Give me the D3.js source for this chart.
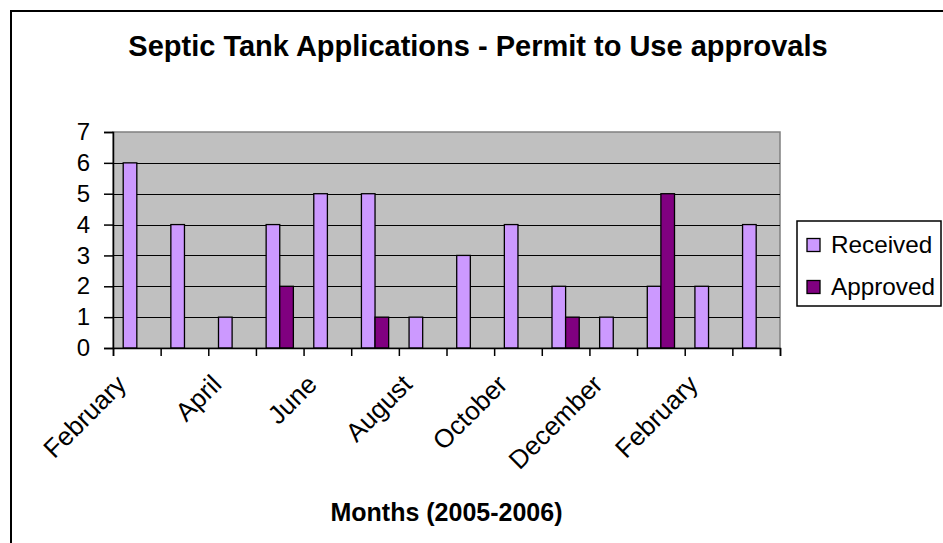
<!DOCTYPE html>
<html>
<head>
<meta charset="utf-8">
<script src="https://cdn.jsdelivr.net/npm/d3@7"></script>
<style>
  html, body { margin: 0; padding: 0; background: #fff; }
  svg { display: block; font-family: "Liberation Sans", Arial, sans-serif; }
</style>
</head>
<body>
<svg id="chart" width="943" height="543"></svg>
<script>
// Monthly septic tank applications, February 2005 to March 2006
const months = ["February", "March", "April", "May", "June", "July", "August",
                "September", "October", "November", "December", "January", "February", "March"];
const received = [6, 4, 1, 4, 5, 5, 1, 3, 4, 2, 1, 2, 2, 4];
const approved = [0, 0, 0, 2, 0, 1, 0, 0, 0, 1, 0, 5, 0, 0];
const seriesNames = ["Received", "Approved"];
const seriesColors = ["#CC99FF", "#800080"];
const yTicks = [0, 1, 2, 3, 4, 5, 6, 7];
const chartTitle = "Septic Tank Applications - Permit to Use approvals";
const xTitle = "Months (2005-2006)";

const svg = d3.select("#chart");
const plot = { left: 113, right: 780, top: 132, bottom: 348 };
const FONT = "Liberation Sans, Arial, sans-serif";

// outer chart frame
svg.append("rect")
  .attr("x", 11).attr("y", 11).attr("width", 945).attr("height", 545)
  .attr("fill", "#fff").attr("stroke", "#000").attr("stroke-width", 2);

// title
svg.append("text")
  .attr("x", 478).attr("y", 56)
  .attr("text-anchor", "middle")
  .attr("font-weight", "bold").attr("font-size", 29)
  .text(chartTitle);

const idx = d3.range(months.length);
const x0 = d3.scaleBand().domain(idx).range([plot.left, plot.right])
  .paddingInner(1.5 / 3.5).paddingOuter(0.75 / 3.5);
const x1 = d3.scaleBand().domain(seriesNames).range([0, x0.bandwidth()]);
const xEdge = d3.scaleLinear().domain([0, months.length]).range([plot.left, plot.right]);
const y = d3.scaleLinear().domain([0, 7]).range([plot.bottom, plot.top]);

// plot area background
svg.append("rect")
  .attr("x", plot.left).attr("y", plot.top)
  .attr("width", plot.right - plot.left).attr("height", plot.bottom - plot.top)
  .attr("fill", "#C0C0C0").attr("stroke", "#808080").attr("stroke-width", 1.5);

// horizontal gridlines
svg.append("g").selectAll("line")
  .data(yTicks.filter(v => v > 0 && v < 7))
  .join("line")
  .attr("x1", plot.left).attr("x2", plot.right)
  .attr("y1", d => Math.round(y(d)) + 0.5).attr("y2", d => Math.round(y(d)) + 0.5)
  .attr("stroke", "#000").attr("stroke-width", 1.2);

// bars
const series = [received, approved];
const g = svg.append("g");
seriesNames.forEach((name, si) => {
  g.append("g").selectAll("rect")
    .data(idx.filter(i => series[si][i] > 0))
    .join("rect")
    .attr("x", i => x0(i) + x1(name))
    .attr("y", i => y(series[si][i]))
    .attr("width", x1.bandwidth())
    .attr("height", i => y(0) - y(series[si][i]))
    .attr("fill", seriesColors[si])
    .attr("stroke", "#000").attr("stroke-width", 1.3);
});

// y axis
const yAxis = svg.append("g")
  .attr("transform", `translate(${plot.left},0)`)
  .call(d3.axisLeft(y).tickValues(yTicks).tickFormat(d3.format("d")).tickSize(9).tickPadding(14));
yAxis.select(".domain").attr("stroke", "#000").attr("stroke-width", 1.5);
yAxis.selectAll(".tick line").attr("stroke", "#000").attr("stroke-width", 1.5);
yAxis.selectAll(".tick text").attr("font-size", 24).attr("fill", "#000")
  .attr("font-family", FONT);

// x axis: tick marks on category boundaries
const xAxisMarks = svg.append("g")
  .attr("transform", `translate(0,${plot.bottom})`)
  .call(d3.axisBottom(xEdge).tickValues(d3.range(months.length + 1)).tickFormat("").tickSize(8));
xAxisMarks.select(".domain").attr("stroke", "#000").attr("stroke-width", 1.5);
xAxisMarks.selectAll(".tick line").attr("stroke", "#000").attr("stroke-width", 1.5);

// x axis: rotated month labels, every other category
const xLabels = svg.append("g")
  .attr("transform", `translate(0,${plot.bottom})`)
  .call(d3.axisBottom(x0).tickSize(0).tickFormat(i => i % 2 === 0 ? months[i] : ""));
xLabels.select(".domain").remove();
xLabels.selectAll(".tick text")
  .attr("font-size", 26).attr("fill", "#000")
  .attr("font-family", FONT)
  .attr("text-anchor", "end")
  .attr("y", 0).attr("dy", 0)
  .attr("transform", "translate(-9,38) rotate(-45)");

// x axis title
svg.append("text")
  .attr("x", (plot.left + plot.right) / 2).attr("y", 521)
  .attr("text-anchor", "middle")
  .attr("font-weight", "bold").attr("font-size", 25)
  .text(xTitle);

// legend
const legend = svg.append("g");
legend.append("rect")
  .attr("x", 797).attr("y", 221).attr("width", 144).attr("height", 85)
  .attr("fill", "#fff").attr("stroke", "#000").attr("stroke-width", 1.5);
const items = legend.selectAll("g.item")
  .data(seriesNames)
  .join("g").attr("class", "item")
  .attr("transform", (d, i) => `translate(807,${245 + i * 42})`);
items.append("rect")
  .attr("x", 0).attr("y", -6.5).attr("width", 13).attr("height", 13)
  .attr("fill", (d, i) => seriesColors[i])
  .attr("stroke", "#000").attr("stroke-width", 1.3);
items.append("text")
  .attr("x", 24).attr("y", 8)
  .attr("font-size", 24.3)
  .text(d => d);
</script>
</body>
</html>
